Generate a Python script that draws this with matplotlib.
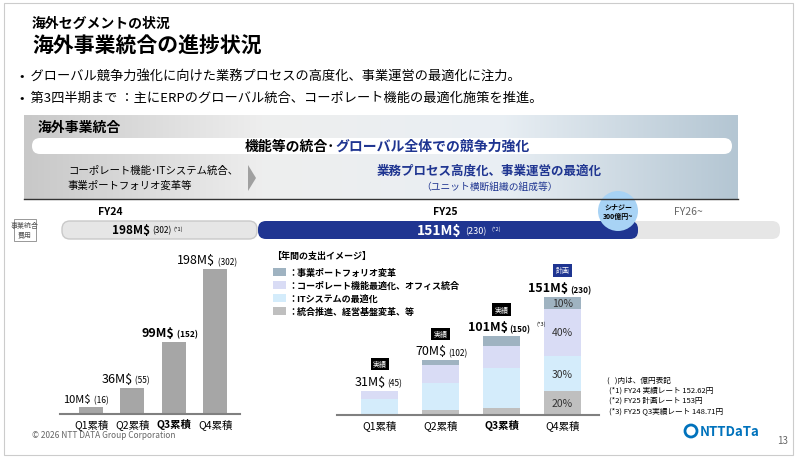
import matplotlib
matplotlib.use("Agg")
import matplotlib.pyplot as plt
from matplotlib.patches import FancyBboxPatch, Rectangle, Circle, Polygon
from matplotlib.colors import LinearSegmentedColormap
import numpy as np

plt.rcParams['font.family'] = ['Noto Sans CJK JP', 'DejaVu Sans']

# left chart: FY24 cumulative cost (M$)
fy24_labels = ['Q1累積', 'Q2累積', 'Q3累積', 'Q4累積']
fy24_values = [10, 36, 99, 198]
fy24_yen = [16, 55, 152, 302]

# right chart: FY25 stacked breakdown (M$)
fy25_labels = ['Q1累積', 'Q2累積', 'Q3累積', 'Q4累積']
fy25_totals = [31, 70, 101, 151]
fy25_yen = [45, 102, 150, 230]
seg_integration = [1.5, 6, 9, 30.2]
seg_it = [19, 34.5, 51, 45.3]
seg_corporate = [10.5, 23.5, 28.5, 60.4]
seg_portfolio = [0, 6, 12.5, 15.1]
q4_pct = ['20%', '30%', '40%', '10%']
fy25_tags = ['実績', '実績', '実績', '計画']
legend_names = ['：事業ポートフォリオ変革', '：コーポレート機能最適化、オフィス統合',
                '：ITシステムの最適化', '：統合推進、経営基盤変革、等']
seg_colors = ['#bfbfbf', '#d4ecfb', '#d9dcf5', '#9fb3c1']

fig = plt.figure(figsize=(7.99, 4.6), dpi=100)
bg = fig.add_axes([0, 0, 1, 1])
bg.set_xlim(0, 799)
bg.set_ylim(460, 0)
bg.axis('off')

navy = '#1f3591'
bg.add_patch(Rectangle((4, 4), 789, 452, fill=False, ec='#cccccc', lw=0.8))
bg.text(32, 24, '海外セグメントの状況', fontsize=10, fontweight='bold', va='center')
bg.text(32, 46, '海外事業統合の進捗状況', fontsize=15, fontweight='bold', va='center')
bg.text(20, 76, '•  グローバル競争力強化に向けた業務プロセスの高度化、事業運営の最適化に注力。', fontsize=9.5, va='center')
bg.text(20, 98, '•  第3四半期まで ：主にERPのグローバル統合、コーポレート機能の最適化施策を推進。', fontsize=9.5, va='center')

# banner with gradient
grad = np.linspace(0, 1, 256).reshape(1, -1)
cm = LinearSegmentedColormap.from_list('g', ['#c8c8c8', '#eeeeee', '#e9eff4', '#b4c6d3'])
bg.imshow(grad, cmap=cm, extent=(24, 738, 200, 116), aspect='auto', zorder=0)
bg.plot([24, 738], [200, 200], color='#333333', lw=1)
bg.text(38, 128, '海外事業統合', fontsize=10, fontweight='bold', va='center')
bg.add_patch(FancyBboxPatch((32, 139), 700, 16, boxstyle='round,pad=0,rounding_size=8', fc='white', ec='none'))
bg.text(335, 147, '機能等の統合･', fontsize=10, fontweight='bold', va='center', ha='right')
bg.text(335, 147, 'グローバル全体での競争力強化', fontsize=10, fontweight='bold', va='center', ha='left', color=navy)
bg.text(68, 178, 'コーポレート機能･ITシステム統合、\n事業ポートフォリオ変革等', fontsize=7.5, va='center', linespacing=1.6)
bg.add_patch(Polygon([[248, 166], [256, 179], [248, 192]], fc='#a0a0a0', ec='none'))
bg.text(489, 171, '業務プロセス高度化、事業運営の最適化', fontsize=9, fontweight='bold', va='center', ha='center', color=navy)
bg.text(489, 187, '（ユニット横断組織の組成等）', fontsize=7, va='center', ha='center', color=navy)

# timeline bars
bg.text(110, 212, 'FY24', fontsize=7.5, fontweight='bold', ha='center', va='center')
bg.text(445, 212, 'FY25', fontsize=7.5, fontweight='bold', ha='center', va='center')
bg.text(688, 212, 'FY26~', fontsize=7.5, ha='center', va='center', color='#666666')
bg.add_patch(Rectangle((14, 220), 22, 22, fc='white', ec='#888888', lw=0.6))
bg.text(25, 231, '事業統合\n費用', fontsize=5, ha='center', va='center', color='#555555')
bg.add_patch(FancyBboxPatch((62, 222), 195, 18, boxstyle='round,pad=0,rounding_size=8', fc='#e6e6e6', ec='#c9c9c9'))
bg.text(150, 231, '198M$', fontsize=8.5, fontweight='bold', ha='right', va='center')
bg.text(152, 231, '(302)', fontsize=6, ha='left', va='center')
bg.text(174, 229, '(*1)', fontsize=4, ha='left', va='center')
bg.add_patch(FancyBboxPatch((580, 222), 200, 18, boxstyle='round,pad=0,rounding_size=8', fc='#e6e6e6', ec='none'))
bg.add_patch(FancyBboxPatch((258, 222), 380, 18, boxstyle='round,pad=0,rounding_size=8', fc=navy, ec='none'))
bg.text(462, 231, '151M$', fontsize=10, fontweight='bold', ha='right', va='center', color='white')
bg.text(465, 232, '(230)', fontsize=6.5, ha='left', va='center', color='white')
bg.text(491, 229, '(*2)', fontsize=4, ha='left', va='center', color='white')
bg.add_patch(Circle((618, 212), 20, fc='#a8d3f5', ec='none'))
bg.text(618, 212, 'シナジー\n300億円~', fontsize=5, fontweight='bold', ha='center', va='center', linespacing=1.3)

# left chart
axl = fig.add_axes([60 / 799, 1 - 415 / 460, 180 / 799, 145 / 460])
xl = np.arange(4)
axl.bar(xl, fy24_values, width=0.58, color='#a6a6a6')
axl.set_ylim(0, 198)
axl.set_xlim(-0.75, 3.6)
for i, (v, y) in enumerate(zip(fy24_values, fy24_yen)):
    bold = 'bold' if i == 2 else 'normal'
    axl.text(i, v + 4, f'{v}M$', fontsize=9 if i else 8, fontweight=bold, ha='right', va='bottom', clip_on=False)
    axl.text(i + 0.02, v + 4, f' ({y})', fontsize=6, fontweight=bold, ha='left', va='bottom', clip_on=False)
axl.set_xticks(xl)
axl.set_xticklabels(fy24_labels, fontsize=7.5)
axl.get_xticklabels()[2].set_fontweight('bold')
axl.tick_params(length=0, pad=3)
axl.set_yticks([])
for s in ['top', 'right', 'left']:
    axl.spines[s].set_visible(False)
axl.spines['bottom'].set_color('#808080')
axl.spines['bottom'].set_linewidth(1.5)
axl.patch.set_alpha(0)

# right chart
axr = fig.add_axes([337 / 799, 1 - 416 / 460, 262 / 799, 118 / 460])
xr = np.arange(4)
bottom = np.zeros(4)
for seg, c in zip([seg_integration, seg_it, seg_corporate, seg_portfolio], seg_colors):
    axr.bar(xr, seg, bottom=bottom, width=0.6, color=c)
    bottom += np.array(seg)
axr.set_ylim(0, 151)
axr.set_xlim(-0.7, 3.6)
cum = 0
for seg, p in zip([seg_integration, seg_it, seg_corporate, seg_portfolio], q4_pct):
    axr.text(3, cum + seg[3] / 2, p, fontsize=7.5, ha='center', va='center', color='#333333')
    cum += seg[3]
for i, (t, y, tag) in enumerate(zip(fy25_totals, fy25_yen, fy25_tags)):
    bold = 'bold' if i >= 2 else 'normal'
    axr.text(i + 0.1, t + 4, f'{t}M$', fontsize=9, fontweight=bold, ha='right', va='bottom', clip_on=False)
    axr.text(i + 0.12, t + 4, f'({y})', fontsize=6, fontweight=bold, ha='left', va='bottom', clip_on=False)
    axr.text(i, t + 34, tag, fontsize=5, ha='center', va='center', color='white', clip_on=False,
             bbox=dict(boxstyle='square,pad=0.3', fc=navy if tag == '計画' else 'black', ec='none'))
axr.text(2.58, 115, '(*3)', fontsize=4, clip_on=False)
axr.set_xticks(xr)
axr.set_xticklabels(fy25_labels, fontsize=7.5)
axr.get_xticklabels()[2].set_fontweight('bold')
axr.tick_params(length=0, pad=3)
axr.set_yticks([])
for s in ['top', 'right', 'left']:
    axr.spines[s].set_visible(False)
axr.spines['bottom'].set_color('#808080')
axr.spines['bottom'].set_linewidth(1.5)
axr.patch.set_alpha(0)

# legend
bg.text(272, 256, '【年間の支出イメージ】', fontsize=6.5, fontweight='bold', va='center')
for k, (name, c) in enumerate(zip(legend_names, seg_colors[::-1])):
    yy = 273 + k * 13
    bg.add_patch(Rectangle((273, yy - 4), 13, 8, fc=c, ec='none'))
    bg.text(288, yy, name, fontsize=6.5, fontweight='bold', va='center')

bg.text(607, 381, '(   )内は、億円表記', fontsize=5.5, va='center')
bg.text(609, 391, '(*1) FY24 実績レート 152.62円', fontsize=5.5, va='center')
bg.text(609, 401, '(*2) FY25 計画レート 153円', fontsize=5.5, va='center')
bg.text(609, 411, '(*3) FY25 Q3実績レート 148.71円', fontsize=5.5, va='center')

bg.text(32, 436, '© 2026 NTT DATA Group Corporation', fontsize=6, color='#666666', va='center')
bg.add_patch(Circle((691, 432), 6, fc='none', ec='#0072bc', lw=2))
bg.text(700, 432, 'NTTDaTa', fontsize=9.5, fontweight='bold', color='#0072bc', va='center')
bg.text(777, 441, '13', fontsize=7, color='#666666', va='center')

fig.savefig('out.png', dpi=100)
